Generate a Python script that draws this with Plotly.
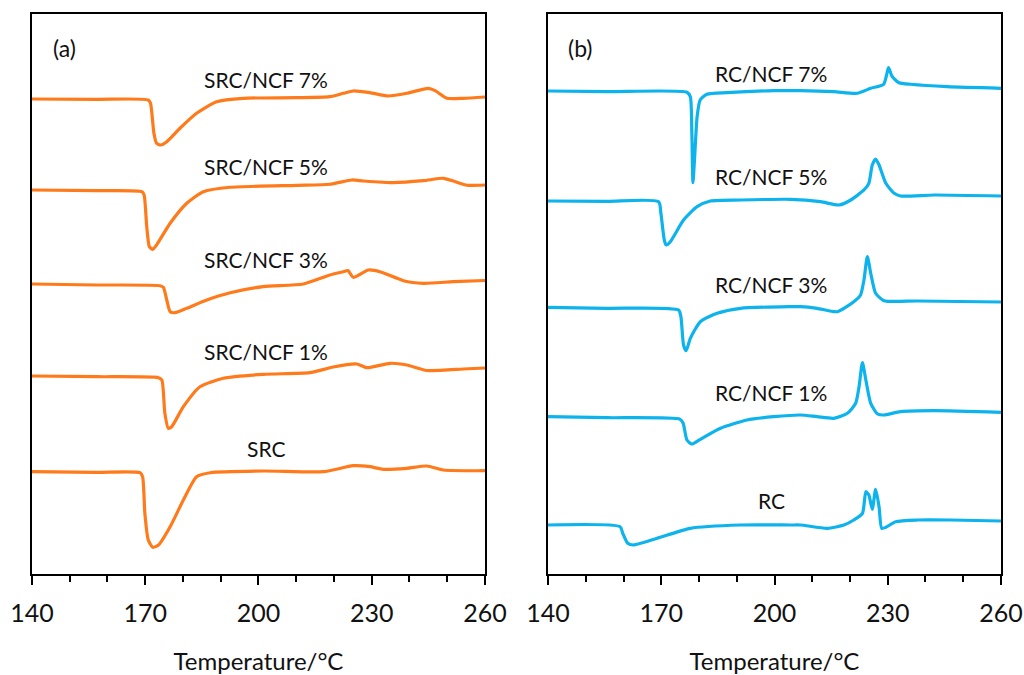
import plotly.graph_objects as go

# ---------------- Panel (a): SRC series ----------------
T_src7 = [140, 157.1, 170.8, 171.4, 172.3, 173.0, 174.1, 175.7, 179.2, 183.6, 188.9, 196.0, 210.1, 218.9,
          222.5, 225.1, 229.5, 234.4, 239.3, 245.0, 246.8, 249.9, 254.3, 260]
y_src7 = [475, 474.7, 474, 470.7, 440.7, 430.7, 429, 432.3, 445.7, 460.7, 472.3, 475.7, 476.3, 477.3,
          480.7, 483, 481.3, 478, 480.7, 485.7, 483.3, 475.7, 475.7, 477]

T_src5 = [140, 157.1, 169.1, 169.7, 170.4, 171.1, 172.0, 173.0, 176.6, 181.0, 185.4, 192.5, 210.1, 218.9,
          224.7, 227.8, 235.7, 243.7, 249.0, 252.1, 255.2, 260]
y_src5 = [384, 383.3, 382.3, 379, 347.3, 327.3, 324.7, 329, 350.7, 370.7, 382.3, 386.7, 388.7, 389.7,
          394, 393, 391.3, 393.3, 395.7, 392.3, 388.7, 389]

T_src3 = [140, 157.1, 173.9, 174.8, 175.7, 176.6, 177.9, 181.0, 186.3, 192.5, 201.3, 211.9, 218.9, 222.5,
          223.7, 225.1, 229.1, 232.2, 238.4, 243.7, 251.6, 260]
y_src3 = [290, 289, 288.3, 286.7, 274, 262.3, 261.3, 265.7, 274, 281.3, 287.3, 290, 299, 302.3,
          303.5, 296.7, 304, 302.3, 293.3, 290.7, 292.3, 293.5]

T_src1 = [140, 157.1, 173.5, 174.4, 175.2, 176.1, 177.0, 180.1, 184.5, 190.7, 201.3, 213.6, 219.8, 226.0,
          228.7, 234.9, 239.3, 244.6, 254.3, 260]
y_src1 = [198, 197.3, 196.3, 194, 160.7, 145.7, 147.3, 167.3, 187.3, 195.7, 199.7, 201.3, 207, 210,
          206.3, 210.7, 209, 203.5, 205, 206]

T_src = [140, 157.1, 168.6, 169.3, 169.9, 170.8, 172.0, 173.5, 176.6, 180.1, 183.6, 187.2, 201.3, 217.2,
         225.1, 229.5, 233.1, 239.3, 244.6, 249.0, 260]
y_src = [102.3, 101.7, 101.3, 97.3, 60.7, 34, 26.7, 29, 47.3, 74, 97.3, 101.3, 103, 102.3,
         108.3, 107.3, 104.7, 105.7, 108, 104, 103.3]

# ---------------- Panel (b): RC series ----------------
T_rc7 = [140, 155.6, 176.8, 177.7, 178.1, 178.4, 178.8, 179.5, 180.3, 182.1, 187.4, 199.8, 206.9, 215.7,
         221.9, 225.5, 228.9, 229.7, 230.2, 231.2, 233.0, 236.1, 245.8, 260]
y_rc7 = [483, 482.3, 481.7, 477.3, 440.7, 391.3, 414, 457.3, 474, 479.7, 481.3, 483.3, 483.3, 482.3,
         480.7, 485.7, 489.7, 499, 506.3, 497.3, 491.3, 489.7, 487.3, 485.7]

T_rc5 = [140, 155.6, 169.3, 169.9, 170.8, 171.3, 172.4, 175.9, 179.5, 183.0, 191.0, 204.2, 212.2, 217.1,
         220.2, 223.7, 225.0, 225.9, 226.8, 227.7, 229.5, 231.7, 233.4, 242.3, 260]
y_rc5 = [373, 372.7, 372.3, 360.7, 334, 329, 332.3, 354, 367.3, 373, 374, 374.7, 372.3, 369,
         374, 384, 390.7, 409, 415, 409, 390.7, 380.7, 378, 379, 378]

T_rc3 = [140, 155.6, 174.6, 175.2, 175.9, 176.6, 177.7, 180.35, 184.8, 191.0, 204.2, 206.9, 211.3, 216.6,
         221.0, 222.8, 223.7, 224.6, 225.5, 226.8, 229.0, 237.9, 260]
y_rc3 = [266.7, 265.7, 264, 257.3, 229, 223.3, 235.7, 252.3, 260.7, 265.7, 267.3, 267.3, 265.7, 262.3,
         272.3, 279, 294, 317.3, 300.7, 280.7, 273.3, 273, 272]

T_rc1 = [140, 155.6, 175.0, 175.8, 176.8, 178.1, 180.35, 185.7, 192.7, 199.8, 206.9, 211.3, 215.7, 219.3,
         221.5, 222.4, 223.3, 224.2, 225.5, 227.3, 229.0, 233.4, 242.3, 260]
y_rc1 = [157.3, 156.3, 154.7, 150.7, 134, 130, 134.7, 145.7, 154, 157.3, 159, 157.3, 155.7, 160.7,
         170.7, 187.3, 211.3, 194, 170.7, 160, 159, 162.3, 163.3, 161.7]

T_rc = [140, 159.1, 159.8, 161.1, 162.6, 168.9, 177.7, 191.0, 204.2, 206.9, 214.0, 218.4, 221.0, 223.3,
        224.2, 225.0, 225.9, 226.8, 227.7, 228.4, 229.5, 232.1, 237.9, 246.7, 260]
y_rc = [49, 47.3, 40.7, 30.7, 29, 35.7, 45.7, 49, 49, 49, 45.7, 49, 54, 60.7,
        82.3, 79, 64.7, 84.7, 67.3, 45.7, 46.7, 52.3, 54, 54, 53]

labels_a = ["SRC/NCF 7%", "SRC/NCF 5%", "SRC/NCF 3%", "SRC/NCF 1%", "SRC"]
labels_b = ["RC/NCF 7%", "RC/NCF 5%", "RC/NCF 3%", "RC/NCF 1%", "RC"]
label_y_a = [494.5, 407, 314, 223, 126]
label_y_b = [500.7, 397.3, 289, 181.2, 74]
label_T_a = 202
label_T_b = 199.2

x_ticks = [140, 170, 200, 230, 260]

ORANGE = "#FF7A1A"
BLUE = "#0DB3EC"
FONT = "Lato"

fig = go.Figure()

series_a = [(T_src7, y_src7), (T_src5, y_src5), (T_src3, y_src3), (T_src1, y_src1), (T_src, y_src)]
series_b = [(T_rc7, y_rc7), (T_rc5, y_rc5), (T_rc3, y_rc3), (T_rc1, y_rc1), (T_rc, y_rc)]

for (tx, ty), name in zip(series_a, labels_a):
    fig.add_trace(go.Scatter(x=tx, y=ty, mode="lines", name=name, xaxis="x", yaxis="y",
                             line=dict(color=ORANGE, width=3.2, shape="spline", smoothing=0.6),
                             showlegend=False))
for (tx, ty), name in zip(series_b, labels_b):
    fig.add_trace(go.Scatter(x=tx, y=ty, mode="lines", name=name, xaxis="x2", yaxis="y2",
                             line=dict(color=BLUE, width=3.2, shape="spline", smoothing=0.6),
                             showlegend=False))

annotations = []
for lab, ly in zip(labels_a, label_y_a):
    annotations.append(dict(x=label_T_a, y=ly, xref="x", yref="y", text=lab, showarrow=False,
                            font=dict(family=FONT, size=21, color="#111111")))
for lab, ly in zip(labels_b, label_y_b):
    annotations.append(dict(x=label_T_b, y=ly, xref="x2", yref="y2", text=lab, showarrow=False,
                            font=dict(family=FONT, size=21, color="#111111")))
annotations.append(dict(x=145.0, y=526, xref="x", yref="y", text="(a)", showarrow=False, xanchor="left",
                        font=dict(family=FONT, size=23, color="#111111")))
annotations.append(dict(x=144.7, y=525.7, xref="x2", yref="y2", text="(b)", showarrow=False, xanchor="left",
                        font=dict(family=FONT, size=23, color="#111111")))

def xaxis_cfg(domain, anchor):
    return dict(domain=domain, anchor=anchor, range=[140, 260], tickvals=x_ticks, automargin=False,
                ticks="outside", ticklen=9, tickwidth=2, tickcolor="black",
                minor=dict(dtick=10, tick0=140, ticks="outside", ticklen=6, tickwidth=2, tickcolor="black"),
                showline=True, linecolor="black", linewidth=2, mirror=True, showgrid=False, zeroline=False,
                tickfont=dict(family=FONT, size=25, color="#111111"), ticklabelstandoff=7,
                title=dict(text="Temperature/°C", font=dict(family=FONT, size=24, color="#111111"), standoff=28))

def yaxis_cfg(anchor):
    return dict(domain=[0.1496, 0.9793], anchor=anchor, range=[0, 560], showticklabels=False, ticks="",
                automargin=False,
                showline=True, linecolor="black", linewidth=2, mirror=True, showgrid=False, zeroline=False)

fig.update_layout(
    width=1024, height=675, margin=dict(l=0, r=0, t=0, b=0, autoexpand=False),
    paper_bgcolor="white", plot_bgcolor="white",
    xaxis=xaxis_cfg([0.03125, 0.4736], "y"),
    yaxis=yaxis_cfg("x"),
    xaxis2=xaxis_cfg([0.5352, 0.9775], "y2"),
    yaxis2=yaxis_cfg("x2"),
    annotations=annotations,
)

fig.write_html("out.html")
